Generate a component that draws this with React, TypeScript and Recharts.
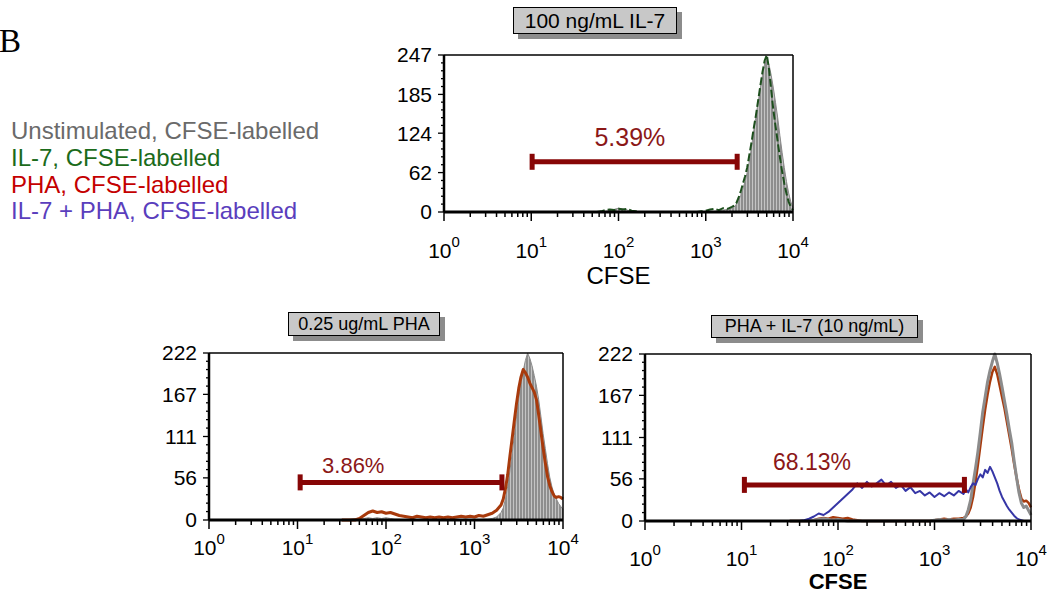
import React from 'react';
import { ComposedChart, Area, Line, XAxis, YAxis, ReferenceLine, ReferenceDot } from 'recharts';

const FONT = 'Arial, "Liberation Sans", Helvetica, sans-serif';
const GATE_RED = '#870606';

// CFSE channel positions in log10 units (10^0 .. 10^4)
const LOG_BINS = [
  1.5, 1.55, 1.6, 1.65, 1.7, 1.75, 1.8, 1.85, 1.9, 1.95, 2.0, 2.05, 2.1, 2.15, 2.2, 2.25, 2.3, 2.35, 2.4,
  2.45, 2.5, 2.55, 2.6, 2.65, 2.7, 2.75, 2.8, 2.85, 2.9, 2.95, 3.0, 3.05, 3.1, 3.15, 3.2, 3.25, 3.3,
  3.325, 3.35, 3.375, 3.4, 3.425, 3.45, 3.475, 3.5, 3.525, 3.55, 3.575, 3.6, 3.625, 3.65, 3.675, 3.7,
  3.725, 3.75, 3.775, 3.8, 3.825, 3.85, 3.875, 3.9, 3.925, 3.95, 3.975, 4.0,
];

// top panel: 100 ng/mL IL-7
const P1_UNSTIM = [
  0, 0, 0, 0, 0, 0, 0, 1, 2, 4, 6, 5, 3, 1, 0, 0, 0, 0, 0, 0, 0, 0, 0, 0, 0, 0, 0, 0, 0, 0,
  0, 1, 1, 2, 3, 4, 6,
  8, 12, 18, 26, 36, 48, 62, 80, 102, 128, 150, 172, 194, 215, 233, 240, 232, 215, 195, 172, 148, 120, 94, 70, 48, 30, 16, 6,
];
const P1_IL7 = [
  0, 0, 0, 0, 0, 0, 1, 3, 4, 3, 5, 4, 5, 2, 1, 0, 0, 0, 0, 0, 0, 0, 0, 0, 0, 0, 0, 0, 0, 1,
  2, 4, 5, 3, 6, 5, 8,
  10, 14, 22, 32, 44, 56, 70, 90, 110, 132, 152, 175, 198, 220, 238, 247, 225, 192, 160, 135, 110, 86, 64, 45, 29, 16, 8, 3,
];

// bottom left: 0.25 ug/mL PHA
const P2_UNSTIM = [
  0, 0, 1, 2, 1, 2, 3, 2, 3, 2, 3, 2, 1, 1, 0, 0, 0, 0, 0, 0, 0, 0, 0, 0, 0, 0, 0, 0, 0, 0,
  0, 0, 1, 1, 2, 4, 10,
  16, 28, 45, 65, 88, 112, 138, 162, 182, 198, 212, 222, 215, 205, 192, 178, 160, 138, 115, 95, 75, 57, 44, 34, 28, 22, 18, 14,
];
const P2_PHA = [
  0, 0, 0, 0, 2, 6, 10, 12, 10, 11, 9, 10, 8, 6, 5, 4, 3, 5, 4, 3, 4, 3, 4, 3, 4, 3, 4, 5, 4, 5,
  4, 6, 5, 7, 9, 13, 20,
  28, 42, 60, 85, 108, 132, 155, 175, 190, 200, 196, 190, 182, 176, 170, 160, 140, 118, 96, 76, 58, 46, 38, 32, 30, 31, 30, 28,
];

// bottom right: PHA + IL-7 (10 ng/mL)
const P3_UNSTIM = [
  0, 0, 0, 0, 0, 1, 2, 3, 2, 1, 2, 1, 0, 0, 0, 0, 0, 0, 0, 0, 0, 0, 0, 0, 0, 0, 0, 0, 0, 0,
  1, 2, 1, 2, 1, 2, 2,
  6, 15, 28, 50, 70, 92, 118, 145, 165, 185, 200, 212, 222, 210, 195, 178, 160, 142, 122, 104, 80, 58, 38, 24, 18, 20, 14, 8,
];
const P3_PHA = [
  0, 0, 0, 0, 0, 1, 3, 4, 3, 5, 4, 3, 4, 2, 1, 0, 0, 0, 0, 0, 0, 0, 0, 0, 0, 0, 0, 0, 0, 0,
  1, 2, 3, 2, 3, 3, 4,
  6, 10, 18, 32, 52, 75, 100, 125, 148, 168, 185, 198, 205, 195, 180, 165, 150, 132, 114, 96, 76, 58, 42, 30, 26, 27, 24, 18,
];
const P3_IL7_PHA = [
  0, 0, 0, 1, 3, 6, 10, 8, 12, 18, 24, 30, 36, 42, 50, 44, 52, 46, 50, 55, 47, 52, 44, 48, 40, 45, 37, 40, 34, 38,
  32, 37, 33, 38, 34, 40, 36,
  42, 38, 45, 50, 48, 56, 62, 58, 68, 64, 72, 66, 58, 50, 40, 32, 26, 20, 15, 11, 7, 4, 2, 1, 0, 0, 0, 0,
];

const P1_Y_TICKS = [0, 62, 124, 185, 247];
const P23_Y_TICKS = [0, 56, 111, 167, 222];
const X_DECADES = [0, 1, 2, 3, 4];

const P1_GATE = { lo: 1.01, hi: 3.36, level: 79, label: '5.39%', labelX: 2.13, labelY: 118 };
const P2_GATE = { lo: 1.03, hi: 3.31, level: 50, label: '3.86%', labelX: 1.63, labelY: 73 };
const P3_GATE = { lo: 1.03, hi: 3.31, level: 48, label: '68.13%', labelX: 1.73, labelY: 78 };

const LEGEND = [
  { text: 'Unstimulated, CFSE-labelled', color: '#6a6a6a' },
  { text: 'IL-7, CFSE-labelled', color: '#1b6b1b' },
  { text: 'PHA, CFSE-labelled', color: '#c40000' },
  { text: 'IL-7 + PHA, CFSE-labelled', color: '#5a3ebd' },
];

const X_TICKS = [
  ...X_DECADES,
  ...X_DECADES.slice(0, -1).flatMap((d) => [2, 3, 4, 5, 6, 7, 8, 9].map((k) => d + Math.log10(k))),
].sort((a, b) => a - b);

const withMinor = (majors: number[]) => {
  const out: number[] = [];
  for (let i = 0; i < majors.length - 1; i++) {
    const step = (majors[i + 1] - majors[i]) / 5;
    for (let k = 0; k < 5; k++) out.push(majors[i] + k * step);
  }
  out.push(majors[majors.length - 1]);
  return out;
};

const isMajor = (v: number) => Math.abs(v - Math.round(v)) < 1e-6;

const XTick = (props: any) => {
  const { x, y, payload, dy } = props;
  const major = isMajor(payload.value);
  return (
    <g>
      <line x1={x} x2={x} y1={y} y2={y + (major ? 9 : 5)} stroke="#000" strokeWidth={1.5} />
      {major && (
        <text x={x} y={y + dy} textAnchor="middle" fontSize={21} fontFamily={FONT} fill="#000">
          <tspan>10</tspan>
          <tspan dy={-11} fontSize={15}>{Math.round(payload.value)}</tspan>
        </text>
      )}
    </g>
  );
};

const YTick = (props: any) => {
  const { x, y, payload, majors } = props;
  const major = majors.some((m: number) => Math.abs(m - payload.value) < 1e-6);
  return (
    <g>
      <line x1={x - (major ? 6 : 3)} x2={x} y1={y} y2={y} stroke="#000" strokeWidth={1.3} />
      {major && (
        <text x={x - 12} y={y} dy="0.35em" textAnchor="end" fontSize={21} fontFamily={FONT} fill="#000">
          {payload.value}
        </text>
      )}
    </g>
  );
};

const Cap = (props: any) => (
  <rect x={props.cx - 2.5} y={props.cy - 8} width={5} height={16} fill={GATE_RED} />
);

type Series = { key: string; values: number[]; color: string; width: number; dash?: string; filled?: boolean };

type PanelProps = {
  id: string;
  left: number;
  top: number;
  width: number;
  height: number;
  margin: { top: number; right: number; bottom: number; left: number };
  yAxisWidth: number;
  xAxisHeight: number;
  yTicks: number[];
  series: Series[];
  gate: typeof P1_GATE;
  gateFont: number;
  tickDy: number;
  xLabel?: { value: string; size: number; bold?: boolean; offset: number };
};

const Panel = (p: PanelProps) => {
  const yMax = p.yTicks[p.yTicks.length - 1];
  const rows = LOG_BINS.map((x, i) => {
    const r: any = { x };
    p.series.forEach((s) => (r[s.key] = s.values[i]));
    return r;
  });
  return (
    <div style={{ position: 'absolute', left: p.left, top: p.top }}>
      <ComposedChart width={p.width} height={p.height} data={rows} margin={p.margin}>
        <defs>
          <pattern id={`hatch-${p.id}`} width={3} height={4} patternUnits="userSpaceOnUse">
            <rect width={3} height={4} fill="#8e8e8e" />
            <rect width={1} height={4} fill="#c4c4c4" />
          </pattern>
        </defs>
        <XAxis
          dataKey="x"
          type="number"
          domain={[0, 4]}
          ticks={X_TICKS}
          interval={0}
          tickLine={false}
          tickSize={0}
          tickMargin={0}
          tick={(t: any) => <XTick {...t} dy={p.tickDy} />}
          axisLine={{ stroke: '#000', strokeWidth: 3 }}
          height={p.xAxisHeight}
          label={
            p.xLabel
              ? {
                  value: p.xLabel.value,
                  position: 'insideBottom',
                  offset: p.xLabel.offset,
                  fontSize: p.xLabel.size,
                  fontWeight: p.xLabel.bold ? 'bold' : 'normal',
                  fontFamily: FONT,
                  fill: '#000',
                }
              : undefined
          }
        />
        <YAxis
          type="number"
          domain={[0, yMax]}
          ticks={withMinor(p.yTicks)}
          interval={0}
          tickLine={false}
          tickSize={0}
          tickMargin={0}
          tick={(t: any) => <YTick {...t} majors={p.yTicks} />}
          axisLine={{ stroke: '#000', strokeWidth: 2.5 }}
          width={p.yAxisWidth}
        />
        {p.series.map((s) =>
          s.filled ? (
            <Area
              key={s.key}
              type="linear"
              dataKey={s.key}
              stroke={s.color}
              strokeWidth={s.width}
              fill={`url(#hatch-${p.id})`}
              fillOpacity={1}
              dot={false}
              activeDot={false}
              isAnimationActive={false}
            />
          ) : (
            <Line
              key={s.key}
              type="linear"
              dataKey={s.key}
              stroke={s.color}
              strokeWidth={s.width}
              strokeDasharray={s.dash}
              strokeLinejoin="round"
              dot={false}
              activeDot={false}
              isAnimationActive={false}
            />
          )
        )}
        <ReferenceLine y={yMax} stroke="#000" strokeWidth={1.5} />
        <ReferenceLine x={4} stroke="#000" strokeWidth={1.5} />
        <ReferenceLine
          segment={[
            { x: p.gate.lo, y: p.gate.level },
            { x: p.gate.hi, y: p.gate.level },
          ]}
          stroke={GATE_RED}
          strokeWidth={5}
        />
        <ReferenceDot x={p.gate.lo} y={p.gate.level} shape={Cap} />
        <ReferenceDot x={p.gate.hi} y={p.gate.level} shape={Cap} />
        <ReferenceDot
          x={p.gate.labelX}
          y={p.gate.labelY}
          r={0}
          fill="none"
          stroke="none"
          label={{ value: p.gate.label, position: 'center', fill: '#8b1717', fontSize: p.gateFont, fontFamily: FONT }}
        />
      </ComposedChart>
    </div>
  );
};

const TitleBox = ({ left, top, width, height, size, text }: any) => (
  <div
    style={{
      position: 'absolute',
      left,
      top,
      width,
      height,
      boxSizing: 'border-box',
      border: '1px solid #000',
      background: '#c8c8c8',
      boxShadow: '5px 5px 0 #8c8c8c',
      fontFamily: FONT,
      fontSize: size,
      lineHeight: `${height - 2}px`,
      textAlign: 'center',
      color: '#000',
      whiteSpace: 'nowrap',
    }}
  >
    {text}
  </div>
);

export default function App() {
  return (
    <div style={{ position: 'absolute', left: 0, top: 0, width: 1047, height: 594, background: '#fff', overflow: 'hidden' }}>
      <svg width={340} height={240} style={{ position: 'absolute', left: 0, top: 0 }}>
        <text x={-1} y={52} fontSize={33} fontFamily='"Liberation Serif", "Times New Roman", serif' fill="#000">
          B
        </text>
        {LEGEND.map((l, i) => (
          <text key={l.text} x={11} y={139.3 + i * 26.7} fontSize={24} fontFamily={FONT} fill={l.color}>
            {l.text}
          </text>
        ))}
      </svg>

      <Panel
        id="p1"
        left={380}
        top={35}
        width={440}
        height={260}
        margin={{ top: 20, right: 27, bottom: 0, left: 0 }}
        yAxisWidth={64}
        xAxisHeight={83}
        yTicks={P1_Y_TICKS}
        series={[
          { key: 'unstim', values: P1_UNSTIM, color: '#8a8a8a', width: 1, filled: true },
          { key: 'il7', values: P1_IL7, color: '#1d4f1d', width: 2, dash: '8 3' },
        ]}
        gate={P1_GATE}
        gateFont={25}
        tickDy={46}
        xLabel={{ value: 'CFSE', size: 24, offset: 11 }}
      />
      <Panel
        id="p2"
        left={150}
        top={338}
        width={430}
        height={252}
        margin={{ top: 15, right: 17, bottom: 0, left: 0 }}
        yAxisWidth={59}
        xAxisHeight={70}
        yTicks={P23_Y_TICKS}
        series={[
          { key: 'unstim', values: P2_UNSTIM, color: '#8a8a8a', width: 1, filled: true },
          { key: 'pha', values: P2_PHA, color: '#a83a0c', width: 3 },
        ]}
        gate={P2_GATE}
        gateFont={22}
        tickDy={35}
      />
      <Panel
        id="p3"
        left={585}
        top={338}
        width={462}
        height={256}
        margin={{ top: 16, right: 16, bottom: 0, left: 0 }}
        yAxisWidth={60}
        xAxisHeight={73}
        yTicks={P23_Y_TICKS}
        series={[
          { key: 'pha', values: P3_PHA, color: '#a83a0c', width: 2.5 },
          { key: 'unstim', values: P3_UNSTIM, color: '#8c8c8c', width: 3 },
          { key: 'il7pha', values: P3_IL7_PHA, color: '#3636a6', width: 2 },
        ]}
        gate={P3_GATE}
        gateFont={23}
        tickDy={45}
        xLabel={{ value: 'CFSE', size: 22, bold: true, offset: 5 }}
      />

      <TitleBox left={513} top={7} width={164} height={27} size={21} text="100 ng/mL IL-7" />
      <TitleBox left={288} top={312} width={152} height={24} size={18} text="0.25 ug/mL PHA" />
      <TitleBox left={711} top={315} width={207} height={23} size={18} text="PHA + IL-7 (10 ng/mL)" />
    </div>
  );
}
